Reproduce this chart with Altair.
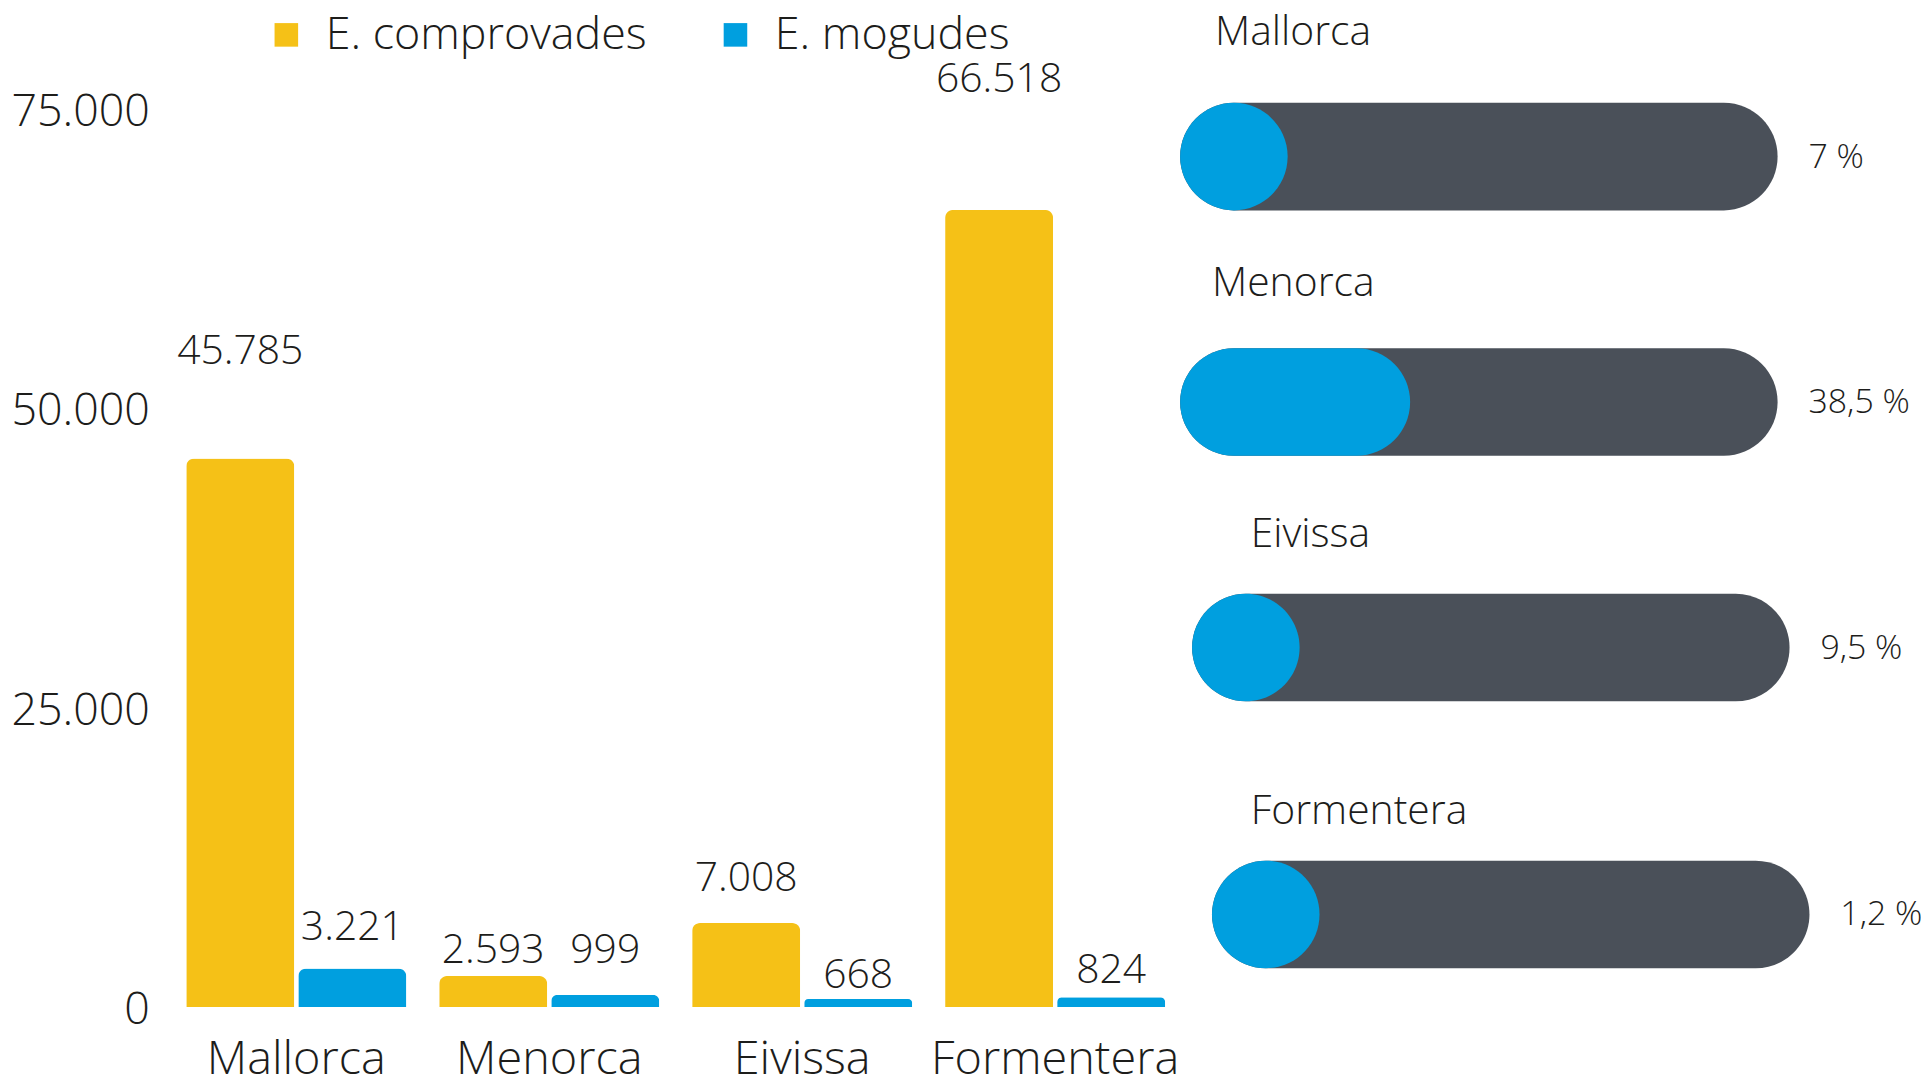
import altair as alt
import pandas as pd

# ---------------- data ----------------
islands = ["Mallorca", "Menorca", "Eivissa", "Formentera"]
series = ["E. comprovades", "E. mogudes"]
comprovades = [45785, 2593, 7008, 66518]
mogudes = [3221, 999, 668, 824]
pct_mogudes = [7, 38.5, 9.5, 1.2]
y_ticks = [0, 25000, 50000, 75000]

# ---------------- styling ----------------
FONT = "Open Sans"
TXT = "#1d1d1b"
YEL = "#F5C117"
BLUE = "#009FDF"
GREY = "#4A5059"

# vertical lift (px) of each value label above its bar top
lift_comp = [107, 25, 44, 130]
lift_mog = [41, 44, 23, 26]
# right panel per-row shifts (px)
row_dx = [0, 0, 12, 32]
row_dy = [0, 0, 0, 21.5]
name_dx = [35, 32, 59, 39]
name_dy = [-124, -119, -113, -103]

PX_PER_K = 902.5 / 75000    # bar chart: pixels per unit of value
PX_PER_PCT = 6              # capsule: pixels per percentage point
PX_PER_ROW = 246.5          # capsule rows spacing

bar_rows = []
for i, isl in enumerate(islands):
    bar_rows.append({"island": isl, "series": series[0], "value": comprovades[i], "lift": lift_comp[i]})
    bar_rows.append({"island": isl, "series": series[1], "value": mogudes[i], "lift": lift_mog[i]})
bar_df = pd.DataFrame(bar_rows)

right_df = pd.DataFrame({
    "island": islands,
    "row": list(range(len(islands))),
    "pct": pct_mogudes,
    "row_dx": row_dx,
    "row_dy": row_dy,
    "name_dx": name_dx,
    "name_dy": name_dy,
})

# ---------------- left: grouped bars ----------------
bx = alt.X(
    "island:N", sort=islands,
    scale=alt.Scale(range=[0, 983], paddingInner=0.13, paddingOuter=0),
    axis=alt.Axis(title=None, labelFontSize=47, labelPadding=30, ticks=False,
                  domain=False, labelAngle=0, labelFont=FONT, labelColor=TXT,
                  labelFontWeight=300, labelLimit=1000),
)
bxo = alt.XOffset("series:N", sort=series,
                  scale=alt.Scale(paddingInner=0.036, paddingOuter=0))
yscale = alt.Scale(domain=[0, 75000], range=[1001, 98.5], nice=False, padding=0)
yaxis = alt.Axis(values=y_ticks, title=None, grid=False, ticks=False, domain=False,
                 labelPadding=37, labelFontSize=45, labelFont=FONT, labelColor=TXT,
                 labelFontWeight=300, labelLimit=1000, labelOffset=3,
                 labelExpr="replace(format(datum.value, ',.0f'), ',', '.')")

left_base = alt.Chart(bar_df).transform_calculate(
    label="replace(format(datum.value, ',.0f'), ',', '.')",
    label_y=f"datum.value + datum.lift / {PX_PER_K}",
)

bars = left_base.mark_bar(cornerRadiusTopLeft=8, cornerRadiusTopRight=8).encode(
    x=bx,
    xOffset=bxo,
    y=alt.Y("value:Q", scale=yscale, axis=yaxis),
    color=alt.Color(
        "series:N", sort=series,
        scale=alt.Scale(domain=series, range=[YEL, BLUE]),
        legend=alt.Legend(title=None, orient="none", legendX=78, legendY=2,
                          direction="horizontal", symbolType="square",
                          symbolSize=560, symbolStrokeWidth=0, labelFontSize=45,
                          labelOffset=17, columnPadding=66, padding=0,
                          labelLimit=1000,
                          labelFont=FONT, labelColor=TXT, labelFontWeight=300),
    ),
)

bar_text = left_base.mark_text(
    align="center", baseline="middle", fontSize=41, font=FONT, fontWeight=300, color=TXT
).encode(
    x=bx,
    xOffset=bxo,
    y=alt.Y("label_y:Q", scale=yscale, axis=yaxis),
    text="label:N",
)

left = alt.layer(bars, bar_text)

# ---------------- right: capsules ----------------
right_base = alt.Chart(right_df).transform_calculate(
    cap_x=f"datum.row_dx / {PX_PER_PCT}",
    cap_x2=f"100 + datum.row_dx / {PX_PER_PCT}",
    fill_x2=f"max(datum.pct, 108 / {PX_PER_PCT}) + datum.row_dx / {PX_PER_PCT}",
    cap_y=f"datum.row + datum.row_dy / {PX_PER_ROW}",
    name_x=f"(datum.row_dx + datum.name_dx) / {PX_PER_PCT}",
    name_y=f"datum.row + (datum.row_dy + datum.name_dy) / {PX_PER_ROW}",
    pct_x=f"100 + (datum.row_dx + 31) / {PX_PER_PCT}",
    pct_y=f"datum.row + (datum.row_dy + 1) / {PX_PER_ROW}",
    pct_label="replace(format(datum.pct, '.1~f'), '.', ',') + ' %'",
)

xs = alt.Scale(domain=[0, 100], range=[998, 1598], nice=False, zero=False, padding=0)
ys = alt.Scale(domain=[0, 3], range=[147, 886.5], nice=False, zero=False, padding=0)

capsule = right_base.mark_bar(height=108, cornerRadius=54, color=GREY).encode(
    x=alt.X("cap_x:Q", scale=xs, axis=None),
    x2="cap_x2:Q",
    y=alt.Y("cap_y:Q", scale=ys, axis=None),
)
fill = right_base.mark_bar(height=108, cornerRadius=54, color=BLUE).encode(
    x=alt.X("cap_x:Q", scale=xs, axis=None),
    x2="fill_x2:Q",
    y=alt.Y("cap_y:Q", scale=ys, axis=None),
)
names = right_base.mark_text(
    align="left", baseline="middle", fontSize=41, font=FONT, fontWeight=300, color=TXT
).encode(
    x=alt.X("name_x:Q", scale=xs, axis=None),
    y=alt.Y("name_y:Q", scale=ys, axis=None),
    text="island:N",
)
pcts = right_base.mark_text(
    align="left", baseline="middle", fontSize=34, font=FONT, fontWeight=300, color=TXT
).encode(
    x=alt.X("pct_x:Q", scale=xs, axis=None),
    y=alt.Y("pct_y:Q", scale=ys, axis=None),
    text="pct_label:N",
)

right = alt.layer(capsule, fill, names, pcts)

chart = alt.layer(left, right).resolve_scale(
    x="independent", y="independent", color="independent",
).properties(
    width=1734, height=1001,
    padding={"left": 179, "top": 0, "right": 8, "bottom": 72},
    autosize=alt.AutoSizeParams(type="none"),
).configure(font=FONT).configure_view(strokeWidth=0, stroke="transparent")

chart.save("out.html", embed_options={"renderer": "svg", "actions": False})
